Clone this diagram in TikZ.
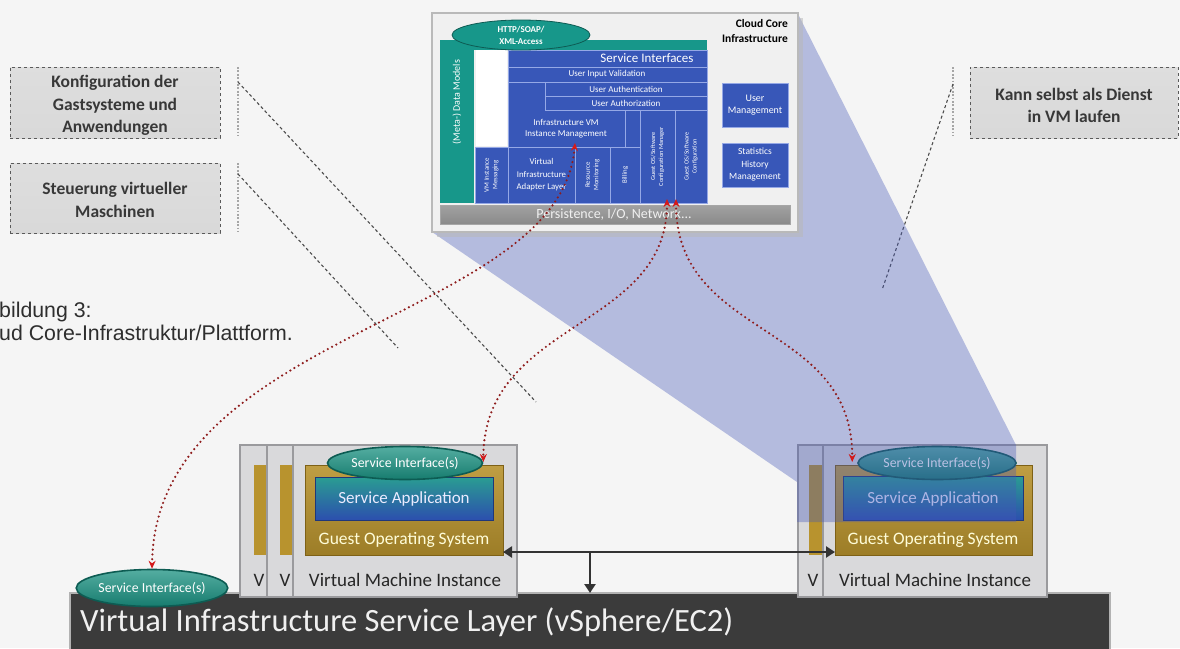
\documentclass[tikz,border=0pt]{standalone}
\usepackage{fontspec}
\setmainfont{Carlito}
\newfontfamily\capfont{Liberation Sans}
\usetikzlibrary{arrows.meta,shapes.geometric,fit,calc}

\definecolor{bgc}{HTML}{F5F5F5}
\definecolor{coreblue}{HTML}{3857B8}
\definecolor{coreline}{HTML}{95A8E6}
\definecolor{coreteal}{HTML}{17978A}
\definecolor{persgray}{HTML}{8A8A8A}
\definecolor{dotred}{HTML}{8E1B1B}
\definecolor{tipred}{HTML}{D41A1A}
\definecolor{gosgold}{HTML}{B8932E}
\definecolor{gosdark}{HTML}{7E6116}
\definecolor{saBlue}{HTML}{2C4FAE}
\definecolor{saTeal}{HTML}{2A9D92}
\definecolor{elTeal}{HTML}{1B9282}
\definecolor{elDark}{HTML}{0D5C53}
\definecolor{barc}{HTML}{3B3B3B}
\definecolor{funnelc}{HTML}{4658B8}
\definecolor{lblborder}{HTML}{5A5A5A}
\definecolor{vmface}{HTML}{D9D9DB}
\definecolor{vmedge}{HTML}{9A9A9D}

\tikzset{
  lbl/.style={draw=lblborder, dashed, line width=0.9pt, shading=axis, top color=gray!26, middle color=gray!6, bottom color=gray!30, inner sep=0pt, outer sep=0pt},
  lbltext/.style={align=center, inner sep=0pt, text=black!78, font=\bfseries\fontsize{17.5}{22.5}\selectfont},
  brk/.style={draw=gray!70, line width=1.8pt, dash pattern=on 1.8pt off 1.6pt},
  lead/.style={draw=gray!60!black, line width=1.1pt, dash pattern=on 3pt off 2.6pt},
  capst/.style={font=\capfont\fontsize{21.3}{23}\selectfont, text=black!82, inner sep=0pt},
  blk/.style={draw=coreline, line width=0.8pt, fill=coreblue, inner sep=0pt, outer sep=0pt},
  plain/.style={inner sep=0pt, outer sep=0pt},
  ctext/.style={text=white, align=center, inner sep=0pt, font=\fontsize{9}{10.5}\selectfont},
  vtext/.style={text=white, align=center, inner sep=0pt, rotate=90, font=\fontsize{6.8}{8.5}\selectfont},
  vmframe/.style={fill=vmface, draw=vmedge, line width=2.6pt, inner sep=0pt, outer sep=0pt},
  gos/.style={top color=gosgold!90!white, bottom color=gosgold!85!black, draw=gosdark, line width=1pt, inner sep=0pt, outer sep=0pt},
  sapp/.style={top color=saTeal, bottom color=saBlue, draw=saBlue!70!black, line width=1pt, inner sep=0pt, outer sep=0pt},
  sie/.style={ellipse, draw=elDark, line width=1.6pt, top color=elTeal!75!white, bottom color=elTeal!85!black, text=white, inner sep=0pt, font=\fontsize{13.8}{15}\selectfont},
  vmtext/.style={text=black!85, inner sep=0pt, font=\fontsize{19}{21}\selectfont},
  gostext/.style={text=yellow!15!white, inner sep=0pt, font=\fontsize{17.5}{19}\selectfont},
  satext/.style={text=white!92!blue, inner sep=0pt, font=\fontsize{17}{19}\selectfont},
  dotcurve/.style={draw=dotred, line width=2.4pt, dash pattern=on 0pt off 4.8pt, line cap=round, {Stealth[tipred,length=8pt,width=7pt]}-{Stealth[tipred,length=8pt,width=7pt]}},
  blackarr/.style={draw=black!80, line width=2.8pt},
}

\begin{document}
\begin{tikzpicture}[x=1pt,y=-1pt]
\fill[bgc] (0,0) rectangle (1180,648);
\useasboundingbox (0,0) rectangle (1180,648);

% ---------- callout labels ----------
\node[lbl, fit={(10,67) (220,138)}] (konf) {};
\node[lbltext] (konft) at ([yshift=-3pt]konf.center) {Konfiguration der\\Gastsysteme und\\Anwendungen};
\node[lbl, fit={(10,163) (220,233)}] (steu) {};
\node[lbltext] (steut) at ([yshift=-2pt]steu.center) {Steuerung virtueller\\Maschinen};
\node[lbl, fit={(970,67) (1178,138)}] (kann) {};
\node[lbltext] (kannt) at ([yshift=-3pt]kann.center) {Kann selbst als Dienst\\in VM laufen};

\coordinate (kb1) at (238,67);  \coordinate (kb2) at (238,136);
\coordinate (sb1) at (238,163); \coordinate (sb2) at (238,232);
\coordinate (rb1) at (953,67);  \coordinate (rb2) at (953,136);
\draw[brk] (kb1) -- (kb2);
\draw[brk] (sb1) -- (sb2);
\draw[brk] (rb1) -- (rb2);

\coordinate (k1) at (238,82);  \coordinate (k2) at (536,402);
\coordinate (s1) at (238,174); \coordinate (s2) at (398,348);
\coordinate (r1) at (953,84);  \coordinate (r2) at (882,290);
\draw[lead] (k1) -- (k2);
\draw[lead] (s1) -- (s2);
\draw[lead] (r1) -- (r2);

% ---------- caption ----------
\node[capst, anchor=base west] (cap1) at (-1,317) {bildung 3:};
\node[capst, anchor=base west] (cap2) at (-1,340) {ud Core-Infrastruktur/Plattform.};

% ---------- bottom layer ----------
\node[fill=barc, draw=gray!60, line width=1.5pt, inner sep=0pt, outer sep=0pt, fit={(70,593) (1110,662)}] (vis) {};
\node[anchor=west, text=gray!12, inner sep=0pt, font=\fontsize{32.5}{35}\selectfont] (vistext) at (80,622) {Virtual Infrastructure Service Layer (vSphere/EC2)};

% ---------- left VM cluster ----------
\node[vmframe, fit={(240,445) (330,597)}] (lvma) {};
\fill[gosgold] (254,465) rectangle (300,555);
\node[vmtext] (lva) at (259,580) {V};
\node[vmframe, fit={(267,445) (350,597)}] (lvmb) {};
\fill[gosgold] (280,465) rectangle (320,555);
\node[vmtext] (lvb) at (285,580) {V};
\node[vmframe, fit={(293,445) (517,597)}] (lvm) {};
\node[gos, fit={(305,465) (503,555)}] (lgos) {};
\node[sapp, fit={(315,477) (493,520)}] (lsa) {};
\node[satext] (lsat) at (404,499) {Service Application};
\node[gostext] (lgost) at (404,540) {Guest Operating System};
\node[vmtext] (lvmt) at (405,580) {Virtual Machine Instance};
\node[sie, minimum width=155pt, minimum height=33pt] (lvmsi) at (405,463) {Service Interface(s)};

% ---------- right VM cluster ----------
\node[vmframe, fit={(798,445) (880,597)}] (rvma) {};
\fill[gosgold] (809,465) rectangle (850,555);
\node[vmtext] (rva) at (813,580) {V};
\node[vmframe, fit={(823,445) (1047,597)}] (rvm) {};
\node[gos, fit={(835,465) (1032,555)}] (rgos) {};
\node[sapp, fit={(843,476) (1023,520)}] (rsa) {};
\node[satext] (rsat) at (933,499) {Service Application};
\node[gostext] (rgost) at (933,540) {Guest Operating System};
\node[vmtext] (rvmt) at (935,580) {Virtual Machine Instance};
\node[sie, minimum width=158pt, minimum height=33pt] (rvmsi) at (937,463) {Service Interface(s)};

% left service interface on the layer
\node[sie, minimum width=140pt, minimum height=37pt] (lsi) at (152,588) {Service Interface(s)};

% ---------- black arrows ----------
\draw[blackarr, {Triangle[length=9pt,width=11pt]}-{Triangle[length=9pt,width=11pt]}] ([yshift=3pt]lgos.south east) -- ([yshift=3pt]rgos.south west);
\coordinate (mid) at (590,552);
\draw[blackarr, -{Triangle[length=9pt,width=11pt]}] (mid) -- (mid |- vis.north);

% ---------- zoom funnel ----------
\fill[funnelc, opacity=0.37] (432,232) -- (798,14) -- (1016,445) -- (1016,522) -- (797,522) -- (797,482) -- cycle;

% ---------- cloud core box ----------
\fill[gray!55, opacity=0.55] (437,18) rectangle (803,237);
\node[fill=gray!12, draw=gray!55, line width=1.2pt, inner sep=0pt, outer sep=0pt, fit={(432,13) (798,232)}] (core) {};
\node[plain, fill=coreteal, fit={(440,40) (474,203)}] (dm) {};
\node[vtext, font=\fontsize{10}{11}\selectfont] (dmt) at (457,102) {(Meta-) Data Models};
\node[plain, fill=coreteal, fit={(474,40) (707,50)}] (band) {};
\node[plain, fill=white, fit={(476,50) (507,146)}] (wb) {};

\node[blk, fit={(508,50) (707,67)}] (si) {};
\node[text=white, inner sep=0pt, font=\fontsize{13}{14}\selectfont] (sit) at (647,58.5) {Service Interfaces};
\node[blk, fit={(508,67) (707,82)}] (uiv) {};
\node[ctext] (uivt) at (607,74.5) {User Input Validation};
\node[blk, fit={(508,82) (625,147)}] (ivm) {};
\node[ctext] (ivmt) at (566,128.5) {Infrastructure VM\\Instance Management};
\node[blk, fit={(545,82) (707,96)}] (uau) {};
\node[ctext] (uaut) at (626,89) {User Authentication};
\node[blk, fit={(545,96) (707,110)}] (uaz) {};
\node[ctext] (uazt) at (626,103) {User Authorization};
\node[blk, fit={(625,110) (640,147)}] (gap) {};
\node[blk, fit={(640,110) (675,203)}] (gcm) {};
\node[vtext, font=\fontsize{6.3}{8}\selectfont] (gcmt) at (gcm.center) {Guest OS/Software\\Configuration Manager};
\node[blk, fit={(675,110) (707,203)}] (gc) {};
\node[vtext, font=\fontsize{6.3}{8}\selectfont] (gct) at (gc.center) {Guest OS/Software\\Configuration};
\node[blk, fit={(475,147) (508,203)}] (vim) {};
\node[vtext] (vimt) at (vim.center) {VM Instance\\Messaging};
\node[blk, fit={(508,147) (575,203)}] (vial) {};
\node[ctext, font=\fontsize{8.8}{12.5}\selectfont] (vialt) at (vial.center) {Virtual\\Infrastructure\\Adapter Layer};
\node[blk, fit={(575,147) (610,203)}] (rm) {};
\node[vtext] (rmt) at (rm.center) {Resource\\Monitoring};
\node[blk, fit={(610,147) (640,203)}] (bill) {};
\node[vtext] (billt) at (bill.center) {Billing};

\node[blk, fit={(722,83) (788,127)}] (um) {};
\node[ctext, font=\fontsize{10}{12.5}\selectfont] (umt) at (um.center) {User\\Management};
\node[blk, fit={(722,143) (788,187)}] (shm) {};
\node[ctext, font=\fontsize{9.5}{12.5}\selectfont] (shmt) at (shm.center) {Statistics\\History\\Management};

\node[plain, top color=persgray!80!white, bottom color=persgray, draw=gray!70, line width=0.6pt, fit={(440,205) (790,224)}] (pers) {};
\node[text=white!88!gray, inner sep=0pt, font=\fontsize{14}{15}\selectfont] (perst) at (614,214.5) {Persistence, I/O, Network...};

\node[ellipse, fill=coreteal, draw=coreteal!60!black, line width=0.8pt, minimum width=138pt, minimum height=30pt, inner sep=0pt, align=center, text=white, font=\bfseries\fontsize{9}{12}\selectfont] (http) at (521,35) {HTTP/SOAP/\\XML-Access};
\node[anchor=north east, align=right, inner sep=0pt, font=\bfseries\fontsize{11.5}{15.5}\selectfont] (cci) at (788,19) {Cloud Core\\Infrastructure};

% ---------- dotted red connectors ----------
\coordinate (ivmtop) at (575,143);
\coordinate (pa) at (667,199);
\coordinate (pb) at (676,199);
\draw[dotcurve] (ivmtop) .. controls (560,320) and (155,330) .. (lsi.north);
\draw[dotcurve] (pa) .. controls (667,330) and (484,320) .. ([yshift=1pt]lvmsi.east);
\draw[dotcurve] (pb) .. controls (676,340) and (853,320) .. ([xshift=-5pt,yshift=1pt]rvmsi.west);

\end{tikzpicture}
\end{document}
